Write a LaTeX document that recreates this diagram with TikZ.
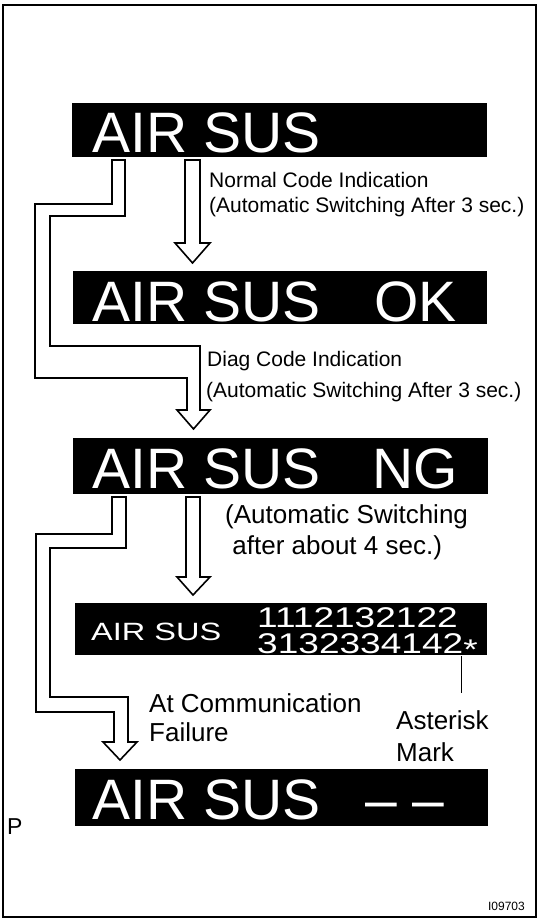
\documentclass[tikz,border=0pt]{standalone}
\usepackage{fontspec}
\setmainfont{Liberation Sans}
\newfontfamily\lcdfont{Liberation Sans}
\newfontfamily\lcdwide{Liberation Sans}[FakeStretch=1.3]
\usepackage{graphicx}
\usepackage{tikz}
\usetikzlibrary{positioning}

\tikzset{
  display/.style={fill=black, inner sep=0pt, anchor=north west},
  lcd/.style={text=white, inner sep=0pt, anchor=base west, font=\lcdfont\fontsize{57}{60}\selectfont},
  lcdsmall/.style={text=white, inner sep=0pt, anchor=base west, font=\lcdwide\fontsize{25}{27}\selectfont},
  lcddigit/.style={text=white, inner sep=0pt, anchor=base west, font=\lcdwide\fontsize{28.5}{30}\selectfont},
  note/.style={inner sep=0pt, anchor=base west, font=\fontsize{21}{24}\selectfont},
  bignote/.style={inner sep=0pt, anchor=base west, font=\fontsize{26}{29}\selectfont},
  hollow/.style={draw, line width=1.6pt, fill=white, line join=miter},
}

\begin{document}
\begin{tikzpicture}[x=1pt, y=-1pt]
    \useasboundingbox (0,0) rectangle (538,920);
    \draw[line width=1.5pt] (3,5) rectangle (536,917);

    % displays
    \node[display, minimum width=415pt, minimum height=54pt] (d1) at (72,103) {};
    \node[display, minimum width=414pt, minimum height=53pt] (d2) at (73,271) {};
    \node[display, minimum width=415pt, minimum height=56pt] (d3) at (73,438) {};
    \node[display, minimum width=412pt, minimum height=52pt] (d4) at (75,603) {};
    \node[display, minimum width=413pt, minimum height=57pt] (d5) at (75,769) {};

    \node[lcd] (sus1) at (92,153) {AIR SUS};
    \node[lcd] (sus2) at (92,321) {AIR SUS};
    \node[lcd] (ok) at (374,321) {OK};
    \node[lcd] (sus3) at (92,488) {AIR SUS};
    \node[lcd] (ng) at (372,488) {NG};
    \node[lcdsmall] (sus4) at (91,640) {AIR SUS};
    \node[lcddigit] (row1) at (257,627) {1112132122};
    \node[lcddigit] (row2) at (257,653) {3132334142\raisebox{-6pt}{*}};
    \node[lcd] (sus5) at (92,819) {AIR SUS};
    \node[lcd] (dashes) at (365,819) {– –};

    % arrows
    \draw[hollow] (185,160) -- (185,243) -- (175,243) -- (192.5,263) -- (210,243) -- (200,243) -- (200,160) -- cycle;
    \draw[hollow] (112,160) -- (112,204) -- (35,204) -- (35,378) -- (187,378) -- (187,410) -- (177,410)
      -- (193.5,429) -- (210,410) -- (200,410) -- (200,346) -- (50,346) -- (50,216) -- (125,216) -- (125,160) -- cycle;
    \draw[hollow] (186,497) -- (186,577) -- (177,577) -- (193,595) -- (210,577) -- (200,577) -- (200,497) -- cycle;
    \draw[hollow] (112,497) -- (112,534) -- (36,534) -- (36,712) -- (114,712) -- (114,742) -- (103,742)
      -- (120,760) -- (137,742) -- (128,742) -- (128,697) -- (50,697) -- (50,548) -- (126,548) -- (126,497) -- cycle;

    % labels
    \node[note] (normal) at (209,188) {Normal Code Indication};
    \node[note] (auto1) at (209,212) {(Automatic Switching After 3 sec.)};
    \node[note] (diag) at (207,366) {Diag Code Indication};
    \node[note] (auto2) at (206,397) {(Automatic Switching After 3 sec.)};
    \node[bignote] (auto3) at (225,523) {(Automatic Switching};
    \node[bignote] (auto3b) at (225,554) {\ after about 4 sec.)};
    \node[bignote] (comm) at (149,712) {At Communication};
    \node[bignote] (fail) at (149,741) {Failure};
    \node[bignote] (ast) at (396,729) {Asterisk};
    \node[bignote] (mark) at (396,761) {Mark};
    \node[inner sep=0pt, anchor=base west, font=\fontsize{23}{25}\selectfont] (pmark) at (7,834) {P};
    \node[inner sep=0pt, anchor=base east, font=\fontsize{12}{14}\selectfont] (code) at (525,910) {I09703};

    \coordinate (astTop) at (461,656);
    \coordinate (astEnd) at (461,693);
    \draw[line width=1pt] (astTop) -- (astEnd);
\end{tikzpicture}
\end{document}
